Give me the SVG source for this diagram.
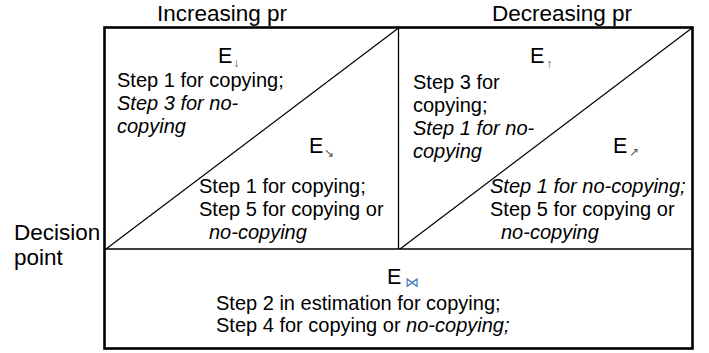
<svg xmlns="http://www.w3.org/2000/svg" width="709" height="353" viewBox="0 0 709 353">
<style>
text{font-family:"Liberation Sans",Arial,sans-serif;font-size:20px;fill:#000}
.h{font-size:22.5px}
.e{font-size:21.5px}
.i{font-style:italic}
.sub{font-size:12px;fill:#555}
.bow{font-size:14px;fill:#4a7ebb}
.thin{stroke:#000;stroke-width:1.3;fill:none}
.diag{stroke:#000;stroke-width:1.2;fill:none}
</style>
<rect width="709" height="353" fill="#fff"/>
<g id="connectors">
<rect x="104.5" y="27.5" width="588" height="321" fill="none" stroke="#000" stroke-width="2.6"/>
<line class="thin" x1="104.5" y1="249" x2="692.5" y2="249"/>
<line class="thin" x1="398.5" y1="27.5" x2="398.5" y2="249"/>
<line class="diag" x1="106" y1="249" x2="398.5" y2="28"/>
<line class="diag" x1="400" y1="249" x2="692" y2="28"/>
</g>
<g id="headers">
<text class="h" x="222" y="20.5" text-anchor="middle">Increasing pr</text>
<text class="h" x="562" y="20.5" text-anchor="middle">Decreasing pr</text>
<text class="h" x="14" y="240">Decision</text>
<text class="h" x="14" y="265">point</text>
</g>
<g id="node-inc-upper">
<text class="e" x="218" y="63">E<tspan class="sub" dx="1" dy="4">↓</tspan></text>
<text x="117" y="87">Step 1 for copying;</text>
<text x="117" y="110" class="i">Step 3 for no-</text>
<text x="117" y="133" class="i">copying</text>
</g>
<g id="node-inc-lower">
<text class="e" x="309" y="153">E<tspan class="sub" dx="1" dy="4">↘</tspan></text>
<text x="199" y="193">Step 1 for copying;</text>
<text x="199" y="216">Step 5 for copying or</text>
<text x="209" y="239" class="i">no-copying</text>
</g>
<g id="node-dec-upper">
<text class="e" x="530" y="63">E<tspan class="sub" dx="2" dy="5">↑</tspan></text>
<text x="413" y="89">Step 3 for</text>
<text x="413" y="112">copying;</text>
<text x="413" y="135" class="i">Step 1 for no-</text>
<text x="413" y="158" class="i">copying</text>
</g>
<g id="node-dec-lower">
<text class="e" x="613" y="153">E<tspan class="sub" dx="2" dy="3">↗</tspan></text>
<text x="490" y="193" class="i">Step 1 for no-copying;</text>
<text x="490" y="216">Step 5 for copying or</text>
<text x="501" y="239" class="i">no-copying</text>
</g>
<g id="node-bottom">
<text class="e" x="387" y="284">E<tspan class="bow" dx="4" dy="3">⋈</tspan></text>
<text x="216" y="310">Step 2 in estimation for copying;</text>
<text x="216" y="332">Step 4 for copying or <tspan class="i">no-copying;</tspan></text>
</g>
</svg>
